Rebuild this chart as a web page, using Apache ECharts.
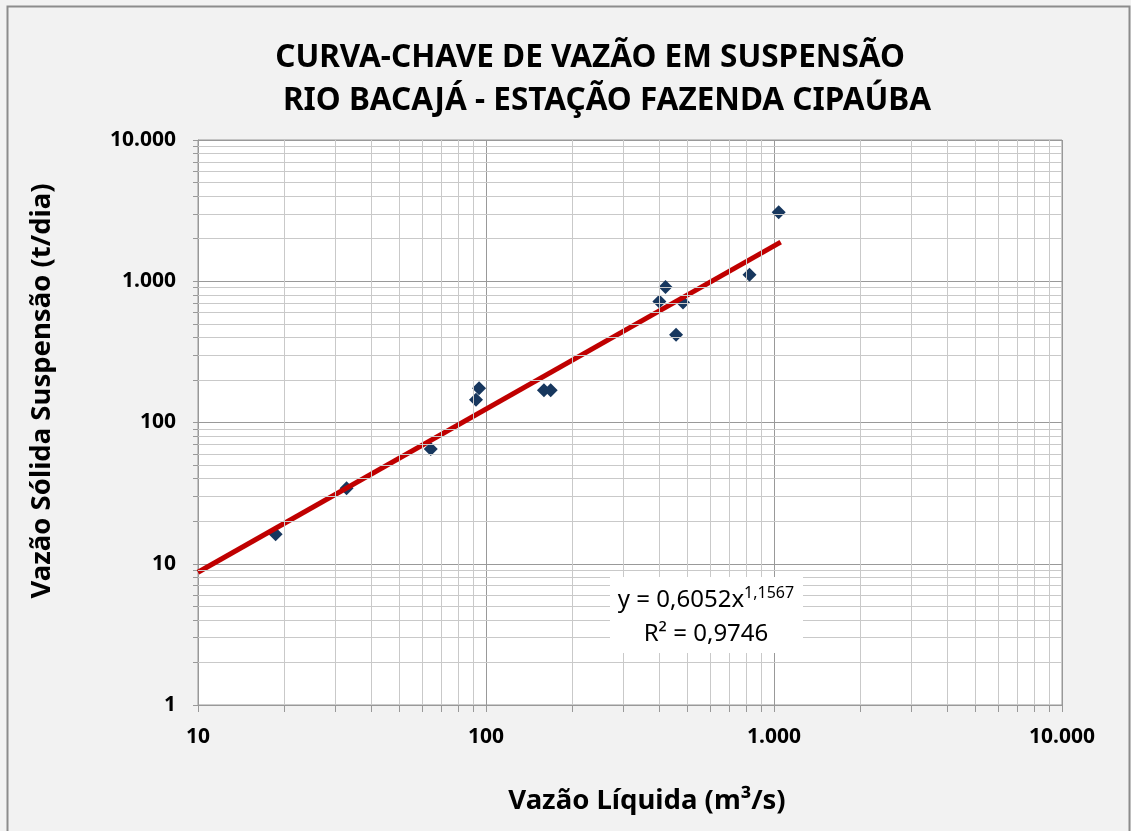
<!DOCTYPE html>
<html>
<head>
<meta charset="utf-8">
<script src="https://cdn.jsdelivr.net/npm/echarts@6/dist/echarts.min.js"></script>
<style>
  html, body { margin: 0; padding: 0; background: #f2f2f2; }
  #chart { width: 1131px; height: 831px; }
</style>
</head>
<body>
<div id="chart"></div>
<script>
// dados
var vazaoLiquida = [18.6, 32.8, 64.3, 92.3, 94.6, 158.9, 167.7, 400, 420, 483, 457, 822, 1038];
var vazaoSolida = [16.2, 34.3, 64.8, 145, 175, 169, 169, 720, 911, 708, 418, 1113, 3078];
// linha de tendência (potência) - extremos
var trendX = [10, 1055];
var trendY = [8.7, 1890];
var eqText = '0,6052x';
var eqExp = '1,1567';
var r2Text = 'R² = 0,9746';
var titulo1 = 'CURVA-CHAVE DE VAZÃO EM SUSPENSÃO';
var titulo2 = 'RIO BACAJÁ - ESTAÇÃO FAZENDA CIPAÚBA';
var tituloX = 'Vazão Líquida (m³/s)';
var tituloY = 'Vazão Sólida Suspensão (t/dia)';

var font = 'Noto Sans';

// linhas de grade secundárias (2..9 de cada década)
function minors(from, to) {
    var out = [];
    for (var d = from; d < to; d *= 10) {
        for (var k = 2; k <= 9; k++) out.push(d * k);
    }
    return out;
}
function allTicks(from, to) {
    var out = [];
    for (var d = from; d < to; d *= 10) {
        for (var k = 1; k <= 9; k++) out.push(d * k);
    }
    out.push(to);
    return out;
}
var xMinor = minors(10, 10000);
var yMinor = minors(1, 10000);

function fmt(v) {
    return Math.round(v).toString().replace(/\B(?=(\d{3})+(?!\d))/g, '.');
}

var markData = [];
xMinor.forEach(function (v) { markData.push({ xAxis: v }); });
yMinor.forEach(function (v) { markData.push({ yAxis: v }); });

var pts = vazaoLiquida.map(function (x, i) { return [x, vazaoSolida[i]]; });
var trend = trendX.map(function (x, i) { return [x, trendY[i]]; });

var boldText = { fontFamily: font, fontWeight: 'bold', fill: '#000', align: 'center', verticalAlign: 'middle' };
function txt(extra) {
    return Object.assign({}, boldText, extra);
}

var chart = echarts.init(document.getElementById('chart'));
chart.setOption({
    backgroundColor: '#f2f2f2',
    animation: false,
    grid: {
        left: 198,
        right: 69,
        top: 140,
        bottom: 126,
        show: true,
        backgroundColor: '#fff',
        borderColor: '#999',
        borderWidth: 1
    },
    xAxis: {
        type: 'log',
        logBase: 10,
        min: 10,
        max: 10000,
        axisLine: { show: true, lineStyle: { color: '#999' } },
        axisTick: { show: true, length: 7, customValues: allTicks(10, 10000), lineStyle: { color: '#999' } },
        axisLabel: { formatter: fmt, margin: 22, fontFamily: font, fontWeight: 'bold', fontSize: 21, color: '#000' },
        splitLine: { show: true, lineStyle: { color: '#999', width: 1 } }
    },
    yAxis: {
        type: 'log',
        logBase: 10,
        min: 1,
        max: 10000,
        axisLine: { show: true, lineStyle: { color: '#999' } },
        axisTick: { show: true, length: 5, customValues: allTicks(1, 10000), lineStyle: { color: '#999' } },
        axisLabel: { formatter: fmt, margin: 22, fontFamily: font, fontWeight: 'bold', fontSize: 21, color: '#000' },
        splitLine: { show: true, lineStyle: { color: '#999', width: 1 } }
    },
    series: [
        {
            type: 'line',
            data: [],
            z: 1,
            silent: true,
            markLine: {
                silent: true,
                symbol: ['none', 'none'],
                label: { show: false },
                lineStyle: { color: '#c9c9c9', type: 'solid', width: 1 },
                data: markData
            }
        },
        {
            type: 'scatter',
            data: pts,
            z: 3,
            symbol: 'diamond',
            symbolSize: 14,
            itemStyle: { color: '#17375e', opacity: 1 }
        },
        {
            type: 'line',
            data: trend,
            z: 4,
            showSymbol: false,
            lineStyle: { color: '#c00000', width: 5 }
        }
    ],
    graphic: [
        {
            type: 'rect',
            left: 5,
            top: 4,
            shape: { width: 1122, height: 840 },
            style: { fill: 'none', stroke: '#8c8c8c', lineWidth: 2 },
            silent: true,
            z: 10
        },
        { type: 'text', x: 590, y: 58, z: 11, style: txt({ text: titulo1, fontSize: 31.5 }) },
        { type: 'text', x: 607, y: 101, z: 11, style: txt({ text: titulo2, fontSize: 31.5 }) },
        { type: 'text', x: 647, y: 801, z: 11, style: txt({ text: tituloX, fontSize: 27.5 }) },
        { type: 'text', x: 42, y: 391, rotation: Math.PI / 2, z: 11, style: txt({ text: tituloY, fontSize: 27.5 }) },
        {
            type: 'rect',
            shape: { x: 610, y: 577, width: 193, height: 76 },
            style: { fill: '#fff' },
            z: 20
        },
        {
            type: 'text',
            x: 706,
            y: 600,
            z: 21,
            style: {
                text: '{a|y = ' + eqText + '}{b|' + eqExp + '}',
                align: 'center',
                verticalAlign: 'middle',
                rich: {
                    a: { fontFamily: font, fontSize: 24, lineHeight: 30, verticalAlign: 'middle', fill: '#000' },
                    b: { fontFamily: font, fontSize: 16, lineHeight: 18, verticalAlign: 'top', fill: '#000' }
                }
            }
        },
        {
            type: 'text',
            x: 706,
            y: 634,
            z: 21,
            style: {
                text: r2Text,
                align: 'center',
                verticalAlign: 'middle',
                fontFamily: font,
                fontSize: 24,
                fill: '#000'
            }
        }
    ]
});
</script>
</body>
</html>
